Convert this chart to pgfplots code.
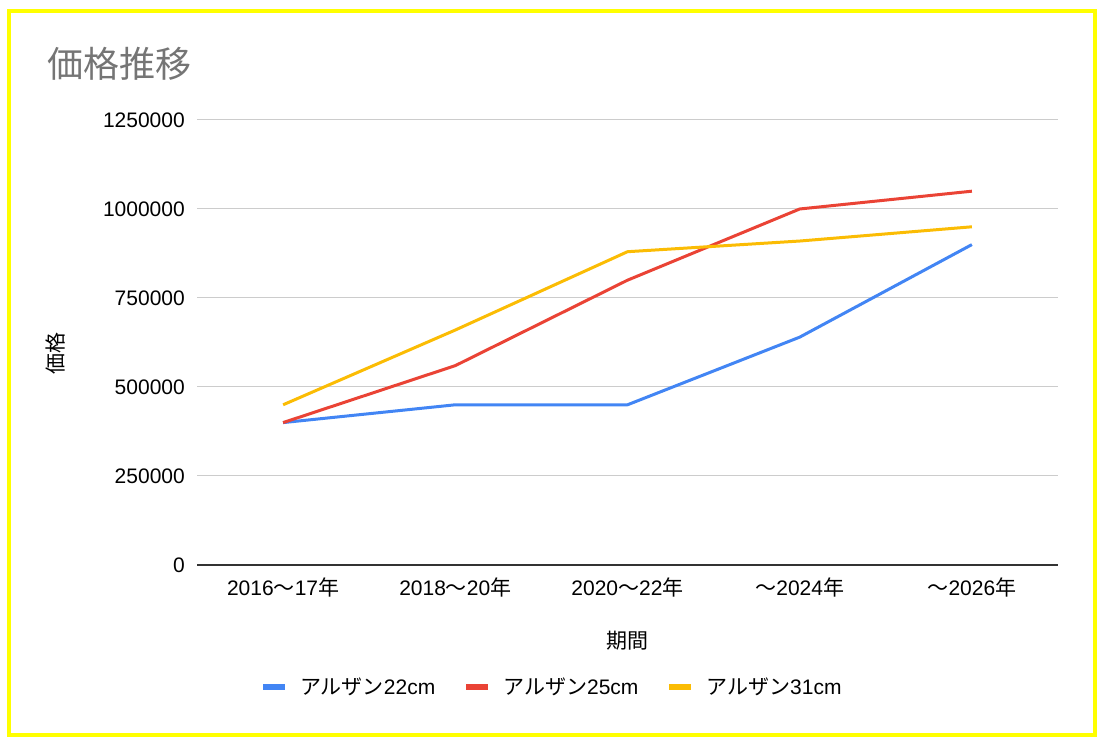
\documentclass[border=0pt]{standalone}
\usepackage{fontspec}
\setmainfont{Liberation Sans}
\newfontfamily\jp{Noto Sans CJK JP}
\usepackage{pgfplots}
\pgfplotsset{compat=1.18}
\definecolor{cblue}{HTML}{4285F4}
\definecolor{cred}{HTML}{EA4335}
\definecolor{cyellow}{HTML}{FBBC04}
\definecolor{gridc}{HTML}{CCCCCC}
\definecolor{titlec}{HTML}{757575}
\definecolor{borderc}{HTML}{FFFF00}
\begin{document}
\begin{tikzpicture}[font=\fontsize{21}{25}\selectfont]
\path[use as bounding box] (0,0) rectangle (1106pt,743pt);
\draw[borderc, line width=4pt] (8.5pt,8pt) rectangle (1095pt,731.5pt);
\node[anchor=base west, inner sep=0pt, text=titlec, font=\fontsize{36}{40}\selectfont\jp] at (47pt,665pt) {価格推移};
\begin{axis}[
  at={(197pt,178pt)}, anchor=south west,
  width=861pt, height=445pt, scale only axis,
  xmin=-0.5, xmax=4.5, ymin=0, ymax=1250000,
  scaled y ticks=false,
  xtick={0,1,2,3,4},
  xticklabels={2016{\jp 〜}17{\jp 年}, 2018{\jp 〜}20{\jp 年}, 2020{\jp 〜}22{\jp 年}, {\jp 〜}2024{\jp 年}, {\jp 〜}2026{\jp 年}},
  ytick={0,250000,500000,750000,1000000,1250000},
  yticklabels={0,250000,500000,750000,1000000,1250000},
  major tick length=0pt,
  axis x line*=bottom, axis y line*=left,
  y axis line style={draw=none},
  x axis line style={draw=black!80, line width=1.3pt, -},
  ymajorgrids, grid style={gridc, line width=1pt},
  yticklabel style={anchor=east, inner sep=0pt, xshift=-12pt},
  xticklabel style={anchor=base, inner sep=0pt, yshift=-31pt},
  xlabel={{\jp 期間}},
  xlabel style={at={(axis description cs:0.5,-0.171)}, anchor=center, inner sep=0pt},
  ylabel={{\jp 価格}},
  ylabel style={at={(axis description cs:-0.164,0.476)}, anchor=center, inner sep=0pt, rotate=0},
  legend columns=3,
  legend style={at={(axis description cs:0.411,-0.274)}, anchor=center, draw=none, fill=none,
    nodes={inner sep=0pt},
    /tikz/every odd column/.append style={column sep=12pt},
    /tikz/every even column/.append style={column sep=28pt}},
  legend cell align=left,
  legend image code/.code={\draw[line width=6pt, line cap=butt] (0pt,0pt) -- (22pt,0pt);},
  every axis plot/.append style={line width=3pt, line join=round},
  clip=false,
]
\addplot[cblue] coordinates {(0,400000) (1,450000) (2,450000) (3,640000) (4,900000)};
\addlegendentry{{\jp アルザン}22cm}
\addplot[cred] coordinates {(0,400000) (1,560000) (2,800000) (3,1000000) (4,1050000)};
\addlegendentry{{\jp アルザン}25cm}
\addplot[cyellow] coordinates {(0,450000) (1,660000) (2,880000) (3,910000) (4,950000)};
\addlegendentry{{\jp アルザン}31cm}
\end{axis}
\end{tikzpicture}
\end{document}
